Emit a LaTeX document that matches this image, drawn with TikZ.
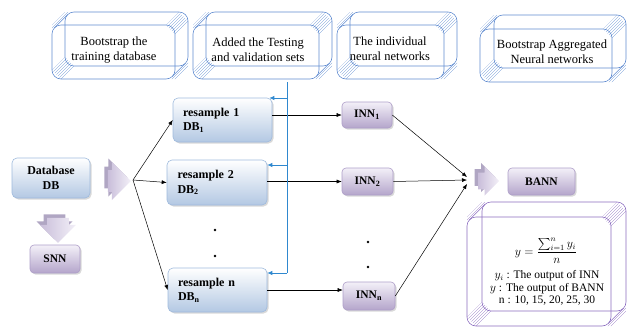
\documentclass[tikz,border=0pt]{standalone}
\usepackage{amsmath}
\usepackage{fontspec}
\setmainfont{Liberation Serif}
\usetikzlibrary{shapes.arrows,shadows,calc,arrows.meta}
\definecolor{bluebord}{HTML}{9FBADD}
\definecolor{blueb}{HTML}{B3C8E3}
\definecolor{purpbord}{HTML}{AE9EC8}
\definecolor{purpb}{HTML}{B4A5CB}
\definecolor{arrlight}{HTML}{F3F0F8}
\definecolor{arrmid}{HTML}{C9BEDA}
\definecolor{arrdark}{HTML}{8F80A9}
\definecolor{cubeblue}{HTML}{5F8BD0}
\definecolor{cubepurp}{HTML}{8B6CBF}
\definecolor{lineblue}{HTML}{2F88CF}
% hatched band: clip path, centre x, centre y, half width, colour
\newcommand\hatchband[5]{%
  \begin{scope}
    \clip #1;
    \foreach \t in {-21,-18,...,21}{
      \draw[#5,line width=0.3pt] ({#2+\t/2-40},{#3+\t/2+40}) -- ({#2+\t/2+40},{#3+\t/2-40});
    }
  \end{scope}}
% x1 y1 x2 y2 depth colour ; back face A=(x1+d,y1)-(x2,y2-d), front face B=(x1,y1+d)-(x2-d,y2)
\newcommand\cubebox[6]{%
  \def\cubeRb{9}\def\cubeRs{4}%
  \hatchband{({#3-\cubeRb},#2) -- (#3,{#2+\cubeRb}) -- ({#3-#5},{#2+#5+\cubeRb}) -- ({#3-#5-\cubeRb},{#2+#5}) -- cycle}%
    {#3-#5/2}{#2+#5/2}{\cubeRb}{#6}
  \hatchband{(#1,{#4-\cubeRb}) -- ({#1+\cubeRb},#4) -- ({#1+#5+\cubeRb},{#4-#5}) -- ({#1+#5},{#4-#5-\cubeRb}) -- cycle}%
    {#1+#5/2}{#4-#5/2}{\cubeRb}{#6}
  \hatchband{(#1,{#2+#5+\cubeRs}) -- (#1,{#2+#5}) -- ({#1+#5},#2) -- ({#1+#5+\cubeRs},#2) -- cycle}%
    {#1+#5/2}{#2+#5/2}{\cubeRs}{#6}
  \hatchband{({#3-#5-\cubeRs},#4) -- ({#3-#5},#4) -- (#3,{#4-#5}) -- (#3,{#4-#5-\cubeRs}) -- cycle}%
    {#3-#5/2}{#4-#5/2}{\cubeRs}{#6}
  \draw[#6,line width=0.6pt,rounded corners=9pt] ({#1+#5},#2) rectangle (#3,{#4-#5});
  \draw[#6,line width=0.6pt,rounded corners=9pt] (#1,{#2+#5}) rectangle ({#3-#5},#4);
  \draw[#6,line width=0.6pt] ({#1+2.6},{#2+#5+2.6}) -- ({#1+#5+2.6},{#2+2.6});
  \draw[#6,line width=0.6pt] ({#3-#5-2.6},{#4-2.6}) -- ({#3-2.6},{#4-#5-2.6});
}
\begin{document}
\begin{tikzpicture}[x=1pt,y=-1pt,
  bluebox/.style={rounded corners=5pt,draw=bluebord,line width=0.6pt,
    top color=white,bottom color=blueb,inner sep=0pt,
    drop shadow={shadow xshift=1.5pt,shadow yshift=-1.5pt,opacity=0.3},
    font=\bfseries\fontsize{12}{14.5}\selectfont},
  purpbox/.style={rounded corners=4pt,draw=purpbord,line width=0.6pt,
    top color=arrlight,bottom color=purpb,inner sep=0pt,
    drop shadow={shadow xshift=1.5pt,shadow yshift=-1.5pt,opacity=0.3},
    font=\bfseries\fontsize{11.5}{14}\selectfont},
  fatarrow/.style={single arrow,inner sep=0pt,draw=none,
    left color=arrmid,right color=arrlight,
    drop shadow={fill=arrdark,shadow xshift=-3.5pt,shadow yshift=3.5pt,opacity=0.7}},
  cubetext/.style={align=center,font=\fontsize{12.5}{15}\selectfont,inner sep=0pt},
  conn/.style={draw=black,line width=0.5pt,-{Latex[length=5pt,width=4pt]}},
  bconn/.style={draw=lineblue,line width=0.8pt,-{Latex[length=5pt,width=4.5pt]}},
  dotnode/.style={circle,fill=black,inner sep=0pt,minimum size=2.6pt}]
\useasboundingbox (0,0) rectangle (627,327);

% top 3D boxes
\cubebox{52}{12}{188}{79}{13}{cubeblue}
\cubebox{193}{12}{332}{79}{13}{cubeblue}
\cubebox{337}{12}{457}{79}{13}{cubeblue}
\cubebox{480}{15}{626}{82}{14}{cubeblue}
\node[cubetext] (t1) at (114,50) {Bootstrap the\\training database};
\node[cubetext] (t2) at (258,50) {Added the Testing\\and validation sets};
\node[cubetext] (t3) at (390,49) {The individual\\neural networks};
\node[cubetext] (t4) at (552,52) {Bootstrap Aggregated\\Neural networks};

% formula box
\cubebox{467}{202}{626}{326}{15}{cubepurp}
\node[inner sep=0pt,font=\fontsize{12}{14}\selectfont] (frac) at (546,251)
  {$y=\dfrac{\sum_{i=1}^{n}y_i}{n}$};
\node[align=center,inner sep=0pt,font=\fontsize{11.5}{12.6}\selectfont] (form) at (547,288)
  {$y_i$ : The output of INN\\
   $y$ : The output of BANN\\
   n : 10, 15, 20, 25, 30};

% main nodes
\node[bluebox,minimum width=78pt,minimum height=40pt,align=center] (db) at (51,178) {Database\\DB};
\node[bluebox,minimum width=99pt,minimum height=44pt,text width=79pt,align=left] (res1) at (222.5,120) {resample 1\\DB\textsubscript{1}};
\node[bluebox,minimum width=100pt,minimum height=45pt,text width=79pt,align=left] (res2) at (217,182.5) {resample 2\\DB\textsubscript{2}};
\node[bluebox,minimum width=99pt,minimum height=44pt,text width=79pt,align=left] (resn) at (217.5,290) {resample n\\DB\textsubscript{n}};

\node[purpbox,minimum width=50pt,minimum height=26pt] (inn1) at (367,115) {INN\textsubscript{1}};
\node[purpbox,minimum width=51pt,minimum height=27pt] (inn2) at (367.5,181.5) {INN\textsubscript{2}};
\node[purpbox,minimum width=52pt,minimum height=28pt] (innn) at (369,296) {INN\textsubscript{n}};
\node[purpbox,minimum width=67pt,minimum height=27pt] (bann) at (541.5,181.5) {BANN};
\node[purpbox,minimum width=50pt,minimum height=28pt] (snn) at (55,259) {SNN};

% fat arrows
\node[fatarrow,minimum width=38pt,minimum height=23pt,single arrow head extend=5pt] (dbarr) at (114,181) {\rule{0pt}{13pt}};
\node[fatarrow,minimum width=29pt,minimum height=21pt,single arrow head extend=4.5pt] (barr) at (484.5,181) {\rule{0pt}{12pt}};
\node[fatarrow,rotate=-90,minimum width=36pt,minimum height=25pt,single arrow head extend=5pt] (sarr) at (58,225) {\rule{0pt}{15pt}};

% dots
\node[dotnode] (d1) at (215,230) {};
\node[dotnode] (d2) at (215,256) {};
\node[dotnode] (d3) at (368,242) {};
\node[dotnode] (d4) at (368,267) {};

% fan-out
\coordinate (fan) at (133,180);
\draw[conn] (fan) -- (res1.west);
\draw[conn] (fan) -- (res2.west);
\draw[conn] (fan) -- (resn.west);

% resample -> INN
\draw[conn] (inn1.west -| res1.east) -- (inn1.west);
\draw[conn] (inn2.west -| res2.east) -- (inn2.west);
\draw[conn] (resn.east) -- (resn.east -| innn.west);

% INN -> BANN arrow
\coordinate (c1) at (467,177);
\coordinate (c2) at (467,180);
\coordinate (c3) at (467,184);
\draw[conn] (inn1.east) -- (c1);
\draw[conn] (inn2.east) -- (c2);
\draw[conn] (innn.east) -- (c3);

% blue feedback line
\coordinate (bt) at (287,82);
\coordinate (b1) at (287,98);
\coordinate (b2) at (287,165);
\coordinate (bb) at (287,273);
\draw[draw=lineblue,line width=0.8pt] (bt) -- (bb);
\draw[bconn] (b1) -- ($(b1 -| res1.east)+(-3,0)$);
\draw[bconn] (b2) -- (b2 -| res2.east);
\draw[bconn] (bb) -- (bb -| resn.east);
\end{tikzpicture}
\end{document}
